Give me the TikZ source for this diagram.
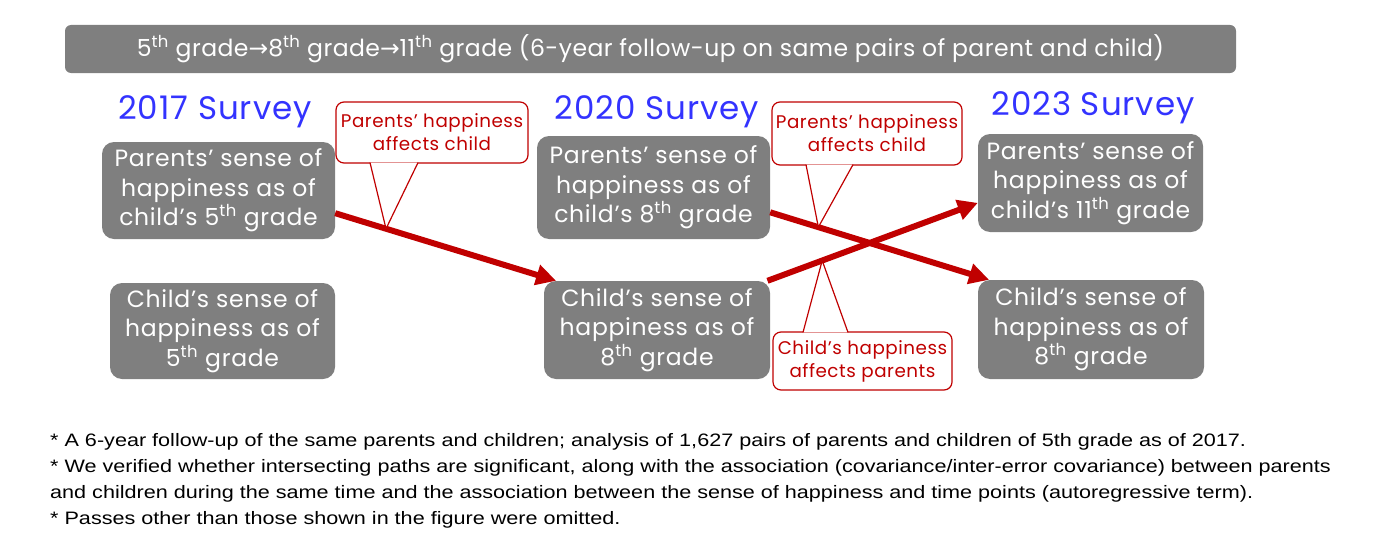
\documentclass[tikz,border=0pt]{standalone}
\usepackage{fontspec}
\setmainfont[LetterSpace=3]{Poppins}
\newfontfamily\headfont[LetterSpace=2]{Poppins}
\newfontfamily\notefont[FakeStretch=1.2]{Liberation Sans}
\newfontfamily\arrowfont{DejaVu Sans}
\usetikzlibrary{arrows.meta,calc}
\definecolor{boxgray}{HTML}{7F7F7F}
\definecolor{pathred}{HTML}{C00000}
\definecolor{surveyblue}{HTML}{3333FF}
\tikzset{
  gradebox/.style={fill=boxgray, rounded corners=12pt, text=white, align=center,
    inner sep=0pt, font=\fontsize{23.5}{29.5}\selectfont},
  survey/.style={text=surveyblue, inner sep=0pt, font=\fontsize{32.5}{32.5}\selectfont},
  note/.style={draw=pathred, line width=1.2pt, fill=white, rounded corners=8pt,
    text=pathred, align=center, inner sep=0pt, font=\fontsize{18.3}{23}\selectfont},
  pathline/.style={draw=pathred, line width=6pt, -{Triangle[length=20pt,width=20pt]}},
  pointer/.style={draw=pathred, line width=1.2pt, fill=white, line join=miter},
}
\begin{document}
\begin{tikzpicture}[x=1pt,y=-1pt]
\useasboundingbox (0,0) rectangle (1380,551);

% heading bar
\node[fill=boxgray, rounded corners=6pt, minimum width=1171pt, minimum height=48pt,
  text=white, font=\headfont\fontsize{23.5}{23.5}\selectfont] (title) at (650.5,49)
  {5\textsuperscript{th} grade{\arrowfont →}8\textsuperscript{th} grade{\arrowfont →}11\textsuperscript{th} grade (6-year follow-up on same pairs of parent and child)};

% surveys
\node[survey] (s2017) at (215,112) {2017 Survey};
\node[survey] (s2020) at (657,112) {2020 Survey};
\node[survey] (s2023) at (1093,108) {2023 Survey};

% parents and children
\node[gradebox, minimum width=233pt, minimum height=97pt] (p5) at (218.5,190.5)
  {Parents’ sense of\\happiness as of\\child’s 5\textsuperscript{th} grade};
\node[gradebox, minimum width=225pt, minimum height=96pt] (c5) at (222.5,331)
  {Child’s sense of\\happiness as of\\5\textsuperscript{th} grade};
\node[gradebox, minimum width=233pt, minimum height=103pt] (p8) at (653.5,187.5)
  {Parents’ sense of\\happiness as of\\child’s 8\textsuperscript{th} grade};
\node[gradebox, minimum width=226pt, minimum height=98pt] (c8) at (657,330)
  {Child’s sense of\\happiness as of\\8\textsuperscript{th} grade};
\node[gradebox, minimum width=225pt, minimum height=98pt] (p11) at (1090.5,183)
  {Parents’ sense of\\happiness as of\\child’s 11\textsuperscript{th} grade};
\node[gradebox, minimum width=226pt, minimum height=99pt] (c11) at (1091,329.5)
  {Child’s sense of\\happiness as of\\8\textsuperscript{th} grade};

% crossed paths
\draw[pathline] (p5.-11) -- coordinate[pos=0.23] (t1) (c8.154);
\draw[pathline] (p8.-12) -- coordinate[pos=0.22] (t2) (c11.154);
\draw[pathline] (c8.24) -- coordinate[pos=0.26] (t3) (p11.190);

% callouts
\node[note, minimum width=192pt, minimum height=61pt] (n1) at (432,132.5)
  {Parents’ happiness\\affects child};
\node[note, minimum width=190pt, minimum height=63pt] (n2) at (867,133.5)
  {Parents’ happiness\\affects child};
\node[note, minimum width=179pt, minimum height=58pt] (n3) at (862.5,361)
  {Child’s happiness\\affects parents};
\draw[pointer] ($(n1.south)+(-62,-1)$) -- (t1) -- ($(n1.south)+(-14,-1)$);
\draw[pointer] ($(n2.south)+(-61,-1)$) -- (t2) -- ($(n2.south)+(-14,-1)$);
\draw[pointer] ($(n3.north)+(-59.5,1)$) -- (t3) -- ($(n3.north)+(-14.5,1)$);

% notes
\node[anchor=north west, align=left, inner sep=0pt,
  font=\notefont\fontsize{18}{26}\selectfont] (notes) at (50,433)
  {* A 6-year follow-up of the same parents and children; analysis of 1,627 pairs of parents and children of 5th grade as of 2017.\\
   * We verified whether intersecting paths are significant, along with the association (covariance/inter-error covariance) between parents\\
   and children during the same time and the association between the sense of happiness and time points (autoregressive term).\\
   * Passes other than those shown in the figure were omitted.};
\end{tikzpicture}
\end{document}
